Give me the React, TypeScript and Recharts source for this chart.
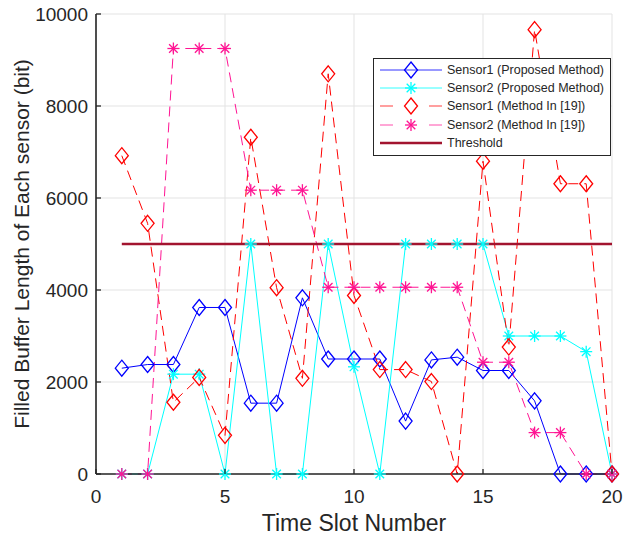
import React from 'react';
import { LineChart, Line, XAxis, YAxis, CartesianGrid, Label } from 'recharts';

// time slots and filled buffer length (bit) per sensor
const slots = [1, 2, 3, 4, 5, 6, 7, 8, 9, 10, 11, 12, 13, 14, 15, 16, 17, 18, 19, 20];
const sensor1Proposed = [2300, 2380, 2380, 3620, 3620, 1540, 1540, 3830, 2500, 2500, 2500, 1150, 2480, 2540, 2250, 2250, 1590, 0, 0, 0];
const sensor2Proposed = [0, 0, 2170, 2170, 0, 5000, 0, 0, 5000, 2330, 0, 5000, 5000, 5000, 5000, 3000, 3000, 3000, 2660, 0];
const sensor1Ref19 = [6920, 5450, 1560, 2100, 840, 7320, 4050, 2080, 8700, 3880, 2270, 2270, 2010, 0, 6800, 2760, 9660, 6310, 6310, 0];
const sensor2Ref19 = [0, 0, 9250, 9250, 9250, 6170, 6170, 6170, 4060, 4060, 4060, 4060, 4060, 4060, 2430, 2430, 900, 900, 0, 0];
const THRESHOLD = 5000;

const xTicks = [0, 5, 10, 15, 20];
const yTicks = [0, 2000, 4000, 6000, 8000, 10000];

const data = slots.map((slot, i) => ({
  slot,
  s1p: sensor1Proposed[i],
  s2p: sensor2Proposed[i],
  s1r: sensor1Ref19[i],
  s2r: sensor2Ref19[i],
  threshold: THRESHOLD,
}));

const FONT = '"Liberation Sans", Arial, sans-serif';
const TEXT = '#262626';

type Marker = 'diamond' | 'star' | 'none';

const SERIES: { key: string; name: string; color: string; dashed: boolean; marker: Marker; width: number }[] = [
  { key: 's1p', name: 'Sensor1 (Proposed Method)', color: '#0000ff', dashed: false, marker: 'diamond', width: 1 },
  { key: 's2p', name: 'Sensor2 (Proposed Method)', color: '#00ffff', dashed: false, marker: 'star', width: 1 },
  { key: 's1r', name: 'Sensor1 (Method In [19])', color: '#ff0000', dashed: true, marker: 'diamond', width: 1 },
  { key: 's2r', name: 'Sensor2 (Method In [19])', color: '#ff1493', dashed: true, marker: 'star', width: 1 },
  { key: 'threshold', name: 'Threshold', color: '#a2142f', dashed: false, marker: 'none', width: 2.5 },
];

const drawMarker = (marker: Marker, cx: number, cy: number, color: string, key?: string) => {
  if (marker === 'diamond') {
    return (
      <path
        key={key}
        d={`M${cx},${cy - 8} L${cx + 6.5},${cy} L${cx},${cy + 8} L${cx - 6.5},${cy} Z`}
        fill="none"
        stroke={color}
        strokeWidth={1.3}
      />
    );
  }
  if (marker === 'star') {
    const r = 6;
    const d = 4.3;
    return (
      <g key={key} stroke={color} strokeWidth={1.3}>
        <line x1={cx - r} y1={cy} x2={cx + r} y2={cy} />
        <line x1={cx} y1={cy - r} x2={cx} y2={cy + r} />
        <line x1={cx - d} y1={cy - d} x2={cx + d} y2={cy + d} />
        <line x1={cx - d} y1={cy + d} x2={cx + d} y2={cy - d} />
      </g>
    );
  }
  return <g key={key} />;
};

const XTick = (props: any) => {
  const { x, y, payload } = props;
  return (
    <g>
      <line x1={x} y1={y} x2={x} y2={y - 5} stroke={TEXT} strokeWidth={1.3} />
      <text x={x} y={y + 29} textAnchor="middle" fontSize={19} fill={TEXT} fontFamily={FONT}>
        {payload.value}
      </text>
    </g>
  );
};

const YTick = (props: any) => {
  const { x, y, payload } = props;
  return (
    <g>
      <line x1={x} y1={y} x2={x + 5} y2={y} stroke={TEXT} strokeWidth={1.3} />
      <text x={x - 8} y={y + 7} textAnchor="end" fontSize={19} fill={TEXT} fontFamily={FONT}>
        {payload.value}
      </text>
    </g>
  );
};

const LegendBox = () => (
  <div
    style={{
      position: 'absolute',
      left: 373,
      top: 58,
      width: 236,
      border: `1px solid ${TEXT}`,
      background: '#fff',
      padding: '2px 0 3px 0',
      fontFamily: FONT,
      fontSize: 12.5,
      color: TEXT,
    }}
  >
    {SERIES.map((s) => (
      <div key={s.key} style={{ display: 'flex', alignItems: 'center', height: 18.2 }}>
        <svg width={73} height={18} style={{ flex: 'none' }}>
          {s.dashed ? (
            <g stroke={s.color} strokeWidth={1} opacity={0.75}>
              <line x1={6} y1={9} x2={19} y2={9} />
              <line x1={55} y1={9} x2={68} y2={9} />
            </g>
          ) : (
            <line x1={6} y1={9} x2={68} y2={9} stroke={s.color} strokeWidth={s.width} opacity={s.width > 2 ? 1 : 0.8} />
          )}
          {drawMarker(s.marker, 37, 9, s.color)}
        </svg>
        <span style={{ whiteSpace: 'nowrap' }}>{s.name}</span>
      </div>
    ))}
  </div>
);

export default function App() {
  return (
    <div style={{ position: 'absolute', left: 0, top: 0, width: 632, height: 542, background: '#fff' }}>
      <LineChart width={632} height={542} data={data} margin={{ top: 14, right: 20, bottom: 0, left: 0 }}>
        <CartesianGrid stroke="#e3e3e3" strokeWidth={1} />
        <XAxis
          dataKey="slot"
          type="number"
          domain={[0, 20]}
          ticks={xTicks}
          height={68}
          tickSize={0}
          tickMargin={0}
          tickLine={false}
          tick={<XTick />}
          axisLine={{ stroke: TEXT, strokeWidth: 1.3 }}
        >
          <Label
            content={(p: any) => (
              <text
                x={p.viewBox.x + p.viewBox.width / 2}
                y={p.viewBox.y + 57}
                textAnchor="middle"
                fontSize={23}
                fill={TEXT}
                fontFamily={FONT}
              >
                Time Slot Number
              </text>
            )}
          />
        </XAxis>
        <YAxis
          type="number"
          domain={[0, 10000]}
          ticks={yTicks}
          width={96}
          tickSize={0}
          tickMargin={0}
          tickLine={false}
          tick={<YTick />}
          axisLine={{ stroke: TEXT, strokeWidth: 1.6 }}
        >
          <Label
            content={(p: any) => {
              const cx = p.viewBox.x + 29;
              const cy = p.viewBox.y + p.viewBox.height / 2;
              return (
                <text
                  x={cx}
                  y={cy}
                  transform={`rotate(-90 ${cx} ${cy})`}
                  textAnchor="middle"
                  fontSize={21}
                  fill={TEXT}
                  fontFamily={FONT}
                >
                  Filled Buffer Length of Each sensor (bit)
                </text>
              );
            }}
          />
        </YAxis>
        {SERIES.map((s) => (
          <Line
            key={s.key}
            dataKey={s.key}
            name={s.name}
            type="linear"
            stroke={s.color}
            strokeWidth={s.width}
            strokeDasharray={s.dashed ? '10 6' : undefined}
            isAnimationActive={false}
            dot={
              s.marker === 'none'
                ? false
                : (p: any) => drawMarker(s.marker, p.cx, p.cy, s.color, `${s.key}-${p.index}`)
            }
            activeDot={false}
          />
        ))}
      </LineChart>
      <LegendBox />
    </div>
  );
}
